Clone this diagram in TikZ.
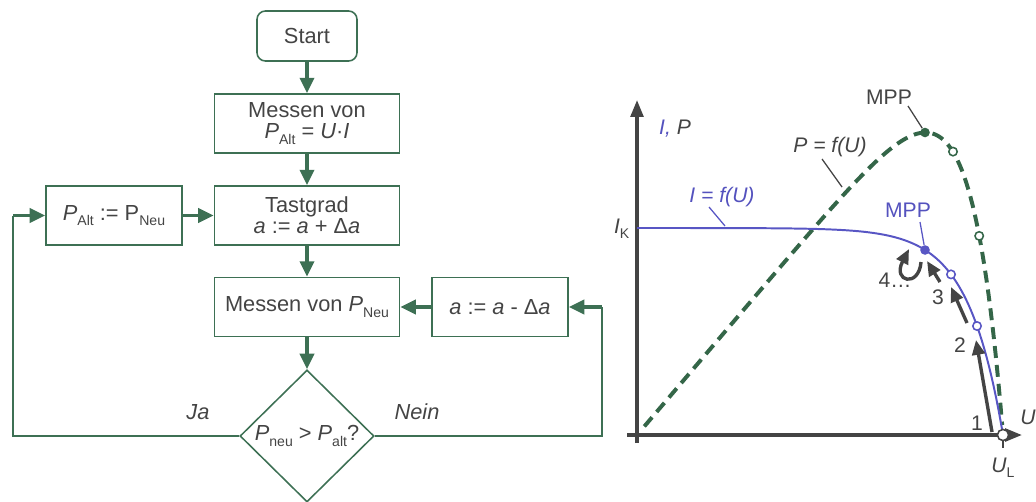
\documentclass[tikz,border=0pt]{standalone}
\usepackage{fontspec}
\setmainfont{Liberation Sans}
\usetikzlibrary{arrows.meta, shapes.geometric, positioning}
\definecolor{flowGreen}{RGB}{61,112,84}
\definecolor{curveGreen}{RGB}{52,102,72}
\definecolor{curveBlue}{RGB}{88,86,196}
\definecolor{labelBlue}{RGB}{84,82,190}
\definecolor{inkGray}{RGB}{68,68,68}
\newcommand{\lowsub}[1]{\raisebox{-0.45ex}{\fontsize{10}{10}\selectfont #1}}
\newcommand{\flowFont}{\fontsize{15.5}{15}\selectfont}
\newcommand{\plotFont}{\fontsize{15}{16}\selectfont}
\tikzset{
  flowBox/.style={
    draw=flowGreen,
    line width=1.1pt,
    text=inkGray,
    minimum width=4.625cm,
    minimum height=1.475cm,
    inner sep=2pt,
    align=center,
    font=\flowFont
  },
  startBox/.style={flowBox, rounded corners=6pt, minimum width=2.5cm, minimum height=1.25cm},
  sideBox/.style={flowBox, minimum width=3.4cm},
  checkBox/.style={
    diamond,
    draw=flowGreen,
    line width=1.1pt,
    inner sep=0pt,
    minimum width=3.35cm,
    minimum height=3.3cm,
    text=inkGray,
    font=\flowFont
  },
  flowArrow/.style={draw=flowGreen, line width=2.5pt, -{Triangle[length=11pt, width=10pt]}},
  flowLine/.style={draw=flowGreen, line width=1.1pt},
  flowNote/.style={text=inkGray, font=\flowFont\itshape},
  axisArrow/.style={draw=inkGray, line width=2.4pt, -{Triangle[length=12pt, width=9pt]}},
  currentLine/.style={draw=curveBlue, line width=1.4pt},
  powerLine/.style={draw=curveGreen, line width=2.8pt, dash pattern=on 8.5pt off 5pt},
  stepArrow/.style={draw=inkGray, line width=2.4pt, -{Triangle[length=10.5pt, width=9pt]}},
  leaderGray/.style={draw=inkGray, line width=0.9pt},
  leaderBlue/.style={draw=curveBlue, line width=0.9pt},
  plotLabel/.style={inner sep=1pt, font=\plotFont\itshape},
  stepLabel/.style={inner sep=1pt, text=inkGray, font=\plotFont},
  fullDot/.style={circle, inner sep=0pt, minimum size=0.24cm},
  openDot/.style={circle, fill=white, line width=1.1pt, inner sep=0pt, minimum size=0.21cm}
}
\begin{document}
\begin{tikzpicture}[x=0.025cm, y=-0.025cm]
  \useasboundingbox (0,0) rectangle (1036,501);
  % flow chart
  \node[startBox] (start) at (307,36) {Start};
  \node[flowBox] (messAlt) at (307,123.5) {Messen von\\\textit{P}\lowsub{Alt} = \textit{U}·\textit{I}};
  \node[flowBox] (tastGrad) at (307,215.5) {Tastgrad\\\textit{a} := \textit{a} + Δ\textit{a}};
  \node[sideBox] (setAlt) at (114,215.5) {\textit{P}\lowsub{Alt} := P\lowsub{Neu}};
  \node[flowBox] (messNeu) at (307,307) {Messen von \textit{P}\lowsub{Neu}};
  \node[sideBox] (decA) at (500,307) {\textit{a} := \textit{a} - Δ\textit{a}};
  \node[checkBox] (check) at (307,436) {\textit{P}\lowsub{neu} > \textit{P}\lowsub{alt}?};
  \coordinate (loopL) at (13,215.5);
  \coordinate (loopR) at (602,307);
  \node[flowNote] (jaLbl) at (198,412) {Ja};
  \node[flowNote] (neinLbl) at (417,412) {Nein};
  \draw[flowArrow] (start) -- (messAlt);
  \draw[flowArrow] (messAlt) -- (tastGrad);
  \draw[flowArrow] (setAlt) -- (tastGrad);
  \draw[flowArrow] (tastGrad) -- (messNeu);
  \draw[flowArrow] (decA) -- (messNeu);
  \draw[flowArrow] (messNeu) -- (check);
  \draw[flowLine] (check.west) -| (loopL);
  \draw[flowArrow] (loopL) -- (setAlt);
  \draw[flowLine] (check.east) -| (loopR);
  \draw[flowArrow] (loopR) -- (decA);
  % characteristic curves
  \coordinate (yBot) at (637,443);
  \coordinate (yTop) at (637,100);
  \coordinate (xLeft) at (627,435);
  \coordinate (xRight) at (1022,435);
  \draw[axisArrow] (yBot) -- (yTop);
  \draw[axisArrow] (xLeft) -- (xRight);
  \draw[powerLine] plot[domain=0.02:1, samples=160] ({637+366*\x},{435-430*\x*(1-exp((\x-1)/0.095))});
  \draw[currentLine] plot[domain=0:1, samples=160] ({637+366*\x},{435-207*(1-exp((\x-1)/0.095))});
  \node[plotLabel] (axisLbl) at (675,129) {\textcolor{labelBlue}{I,}\ \textcolor{inkGray}{P}};
  \node[plotLabel, text=inkGray, anchor=east] (ikLbl) at (631,229) {I\lowsub{\upshape K}};
  \node[plotLabel, text=inkGray] (uLbl) at (1028,417) {U};
  \node[plotLabel, text=inkGray] (ulLbl) at (1003,468) {U\lowsub{\upshape L}};
  \node[plotLabel, text=labelBlue] (iLbl) at (722,197) {I = f(U)};
  \node[plotLabel, text=inkGray] (pLbl) at (830,147) {P = f(U)};
  \node[plotLabel, text=inkGray, font=\plotFont] (mppPLbl) at (889,97) {MPP};
  \node[plotLabel, text=labelBlue, font=\plotFont] (mppILbl) at (908,210) {MPP};
  \node[fullDot, fill=curveGreen] (mppP) at (925,132.5) {};
  \node[fullDot, fill=curveBlue] (mppI) at (925,250) {};
  \node[openDot, draw=curveGreen] (opP1) at (953,151.6) {};
  \node[openDot, draw=curveGreen] (opP2) at (979.2,235.9) {};
  \node[openDot, draw=curveBlue] (opI1) at (951,274.4) {};
  \node[openDot, draw=curveBlue] (opI2) at (977,326) {};
  \node[openDot, draw=inkGray, minimum size=0.28cm] (ulDot) at (1003,435) {};
  \coordinate (ulTick) at (1003,448);
  \draw[leaderGray] (ulDot) -- (ulTick);
  % leader lines
  \coordinate (iLeadA) at (709,207);
  \coordinate (iLeadB) at (725,226);
  \coordinate (pLeadA) at (822,159);
  \coordinate (pLeadB) at (842,187);
  \coordinate (mppPLead) at (908,106);
  \coordinate (mppILead) at (920,222);
  \draw[leaderBlue] (iLeadA) -- (iLeadB);
  \draw[leaderGray] (pLeadA) -- (pLeadB);
  \draw[leaderGray] (mppPLead) -- (mppP);
  \draw[leaderBlue] (mppILead) -- (mppI);
  % search steps
  \coordinate (s1a) at (992,432);
  \coordinate (s1b) at (976,340);
  \coordinate (s2a) at (967,323);
  \coordinate (s2b) at (951,287);
  \coordinate (s3a) at (940,282);
  \coordinate (s3b) at (927,261);
  \coordinate (s4a) at (921,262);
  \coordinate (s4b) at (909,249);
  \draw[stepArrow] (s1a) -- (s1b);
  \draw[stepArrow] (s2a) -- (s2b);
  \draw[stepArrow] (s3a) -- (s3b);
  \draw[stepArrow] (s4a) .. controls (919,288) and (892,282) .. (s4b);
  \node[stepLabel] (n1) at (977,423) {1};
  \node[stepLabel] (n2) at (960,345) {2};
  \node[stepLabel] (n3) at (938,297) {3};
  \node[stepLabel] (n4) at (895,280) {4…};
\end{tikzpicture}
\end{document}
